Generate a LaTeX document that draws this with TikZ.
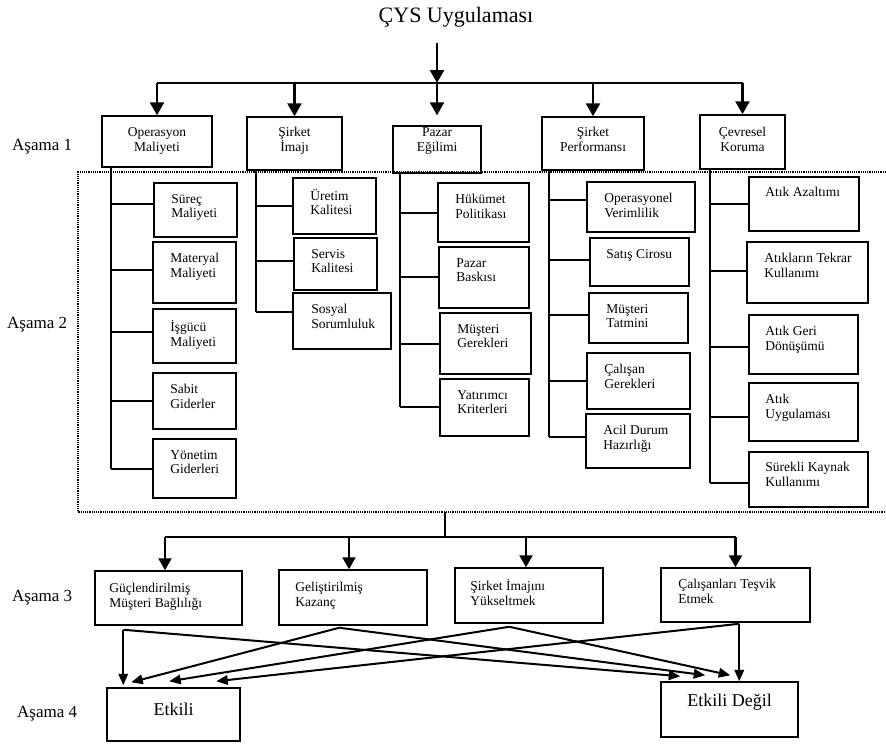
\documentclass[tikz,border=0pt]{standalone}
\usepackage{fontspec}
\setmainfont{Liberation Serif}
\usetikzlibrary{arrows.meta,calc}
\newcommand\bxfont{\fontsize{13.5pt}{14.5pt}\selectfont}
\newcommand\lonefont{\fontsize{13.5pt}{15pt}\selectfont}
\newcommand\ttlfont{\fontsize{22pt}{26pt}\selectfont}
\newcommand\stgfont{\fontsize{17pt}{20pt}\selectfont}
\newcommand\efont{\fontsize{18pt}{21pt}\selectfont}
\tikzset{
  bx/.style={draw, line width=1.5pt, inner sep=0pt},
  ln/.style={line width=1.5pt},
  barw/.style={line width=1.8pt},
  ln2/.style={line width=1.7pt},
  bigarr/.style={line width=2.5pt, -{Triangle[width=14pt,length=13pt]}},
  midarr/.style={line width=2.1pt, -{Triangle[width=13pt,length=12pt]}},
  xarr/.style={line width=2pt, -{Triangle[width=9.5pt,length=11.5pt]}},
  dotln/.style={line width=1.8pt, dash pattern=on 1.2pt off 1pt},
  stage/.style={anchor=base west, inner sep=0pt, font=\stgfont},
}
% name, x1, y1, x2, y2, xoff, yoff, text
\newcommand\mybox[8]{%
  \node[bx, minimum width={#4-#2}, minimum height={#5-#3},
    label={[anchor=north west, align=left, inner sep=0pt, font=\bxfont,
            xshift=#6pt, yshift=-#7pt]north west:{#8}}]
    (#1) at ({(#2+#4)/2},{(#3+#5)/2}) {};}
% name, x1, y1, x2, y2, text  (first line top at y=128)
\newcommand\lvlone[6]{%
  \node[bx, minimum width={#4-#2}, minimum height={#5-#3},
    label={[anchor=north, align=center, inner sep=0pt, font=\lonefont,
            yshift={(#3-128)*1pt}]north:{#6}}]
    (#1) at ({(#2+#4)/2},{(#3+#5)/2}) {};}
\begin{document}
\begin{tikzpicture}[x=1pt, y=-1pt]
\useasboundingbox (0,0) rectangle (886,744);

% title
\node[font=\ttlfont, anchor=base, inner sep=0pt] (title) at (456,23) {ÇYS Uygulaması};

% stage labels
\node[stage] (a1) at (12,150) {Aşama 1};
\node[stage] (a2) at (7,328) {Aşama 2};
\node[stage] (a3) at (12,601) {Aşama 3};
\node[stage] (a4) at (17,717) {Aşama 4};

% level 1
\lvlone{op}{102}{116}{212}{167}{Operasyon\\Maliyeti}
\lvlone{si}{247}{117}{342}{170}{Şirket\\İmajı}
\lvlone{pe}{393}{126}{481}{173}{Pazar\\Eğilimi}
\lvlone{sp}{542}{117}{644}{170}{Şirket\\Performansı}
\lvlone{ck}{700}{115}{785}{169}{Çevresel\\Koruma}

\coordinate (a0) at (437,43);
\coordinate (hub) at (437,83);
\draw[barw] (op.north |- hub) -- (ck.north |- hub);
\draw[bigarr] (a0) -- (hub);
\foreach \n in {op,si,sp,ck} \draw[bigarr] (\n.north |- hub) -- (\n.north);
\draw[bigarr] (pe.north |- hub) -- ([yshift=10pt]pe.north);

% dotted frame
\draw[dotln] (886,172) -- (78,172) -- (78,512) -- (886,512);
\coordinate (fbot) at (445,512);

% level 2, column 1
\mybox{s1}{154}{183}{237}{237}{18}{12}{Süreç\\Maliyeti}
\mybox{s2}{153}{242}{236}{303}{18}{12}{Materyal\\Maliyeti}
\mybox{s3}{153}{309}{236}{363}{18}{12}{İşgücü\\Maliyeti}
\mybox{s4}{153}{373}{236}{429}{18}{12}{Sabit\\Giderler}
\mybox{s5}{153}{439}{236}{498}{18}{12}{Yönetim\\Giderleri}
% column 2
\mybox{i1}{293}{178}{376}{234}{18}{12}{Üretim\\Kalitesi}
\mybox{i2}{294}{238}{377}{290}{18}{12}{Servis\\Kalitesi}
\mybox{i3}{293}{293}{391}{349}{19}{12}{Sosyal\\Sorumluluk}
% column 3
\mybox{p1}{438}{183}{529}{242}{18}{12}{Hükümet\\Politikası}
\mybox{p2}{439}{247}{529}{308}{18}{12}{Pazar\\Baskısı}
\mybox{p3}{440}{313}{531}{374}{18}{12}{Müşteri\\Gerekleri}
\mybox{p4}{440}{379}{529}{436}{18}{12}{Yatırımcı\\Kriterleri}
% column 4
\mybox{f1}{587}{182}{695}{232}{18}{12}{Operasyonel\\Verimlilik}
\mybox{f2}{590}{238}{689}{286}{17}{12}{Satış Cirosu}
\mybox{f3}{589}{293}{688}{343}{18}{12}{Müşteri\\Tatmini}
\mybox{f4}{587}{353}{690}{409}{18}{12}{Çalışan\\Gerekleri}
\mybox{f5}{586}{414}{690}{468}{18}{12}{Acil Durum\\Hazırlığı}
% column 5
\mybox{c1}{749}{177}{859}{231}{17}{11}{Atık Azaltımı}
\mybox{c2}{747}{242}{868}{303}{18}{12}{Atıkların Tekrar\\Kullanımı}
\mybox{c3}{749}{315}{858}{374}{17}{12}{Atık Geri\\Dönüşümü}
\mybox{c4}{749}{383}{858}{441}{17}{12}{Atık\\Uygulaması}
\mybox{c5}{749}{452}{868}{507}{17}{11}{Sürekli Kaynak\\Kullanımı}

% trunks
\coordinate (t1) at (111,0);
\coordinate (t2) at (256,0);
\coordinate (t3) at (400,0);
\coordinate (t4) at (549,0);
\coordinate (t5) at (710,0);
\foreach \n/\s in {s1/6,s2/2.5,s3/4,s4/0,s5/-0.5,i1/0,i2/3,i3/9,p1/-0.5,p2/0.5,p3/-0.5,p4/0.5,f1/7,f2/2,f3/3,f4/0,f5/4,c1/0,c2/1.5,c3/-2.5,c4/-5,c5/-3.5}
  \path ([yshift=\s pt]\n.west) coordinate (b\n);
\draw[ln] (op.south -| t1) -- (bs5 -| t1);
\draw[ln] (si.south -| t2) -- (bi3 -| t2);
\draw[ln] (pe.south -| t3) -- (bp4 -| t3);
\draw[ln] (sp.south -| t4) -- (bf5 -| t4);
\draw[ln] (ck.south -| t5) -- (bc5 -| t5);
\foreach \n in {s1,s2,s3,s4,s5} \draw[ln] (b\n -| t1) -- (b\n);
\foreach \n in {i1,i2,i3} \draw[ln] (b\n -| t2) -- (b\n);
\foreach \n in {p1,p2,p3,p4} \draw[ln] (b\n -| t3) -- (b\n);
\foreach \n in {f1,f2,f3,f4,f5} \draw[ln] (b\n -| t4) -- (b\n);
\foreach \n in {c1,c2,c3,c4,c5} \draw[ln] (b\n -| t5) -- (b\n);

% level 3
\mybox{g1}{95}{571}{242}{625}{15}{13}{Güçlendirilmiş\\Müşteri Bağlılığı}
\mybox{g2}{279}{570}{427}{625}{17}{13}{Geliştirilmiş\\Kazanç}
\mybox{g3}{455}{568}{603}{623}{16}{12}{Şirket İmajını\\Yükseltmek}
\mybox{g4}{661}{568}{810}{622}{18}{12}{Çalışanları Teşvik\\Etmek}

\coordinate (hub2) at (445,537);
\draw[ln2] (fbot) -- (hub2);
\path ([xshift=-3.5pt]g1.north) coordinate (g1n)
      ([xshift=-4pt]g2.north) coordinate (g2n)
      ([xshift=-3pt]g3.north) coordinate (g3n)
      (g4.north) coordinate (g4n);
\draw[ln2] (g1n |- hub2) -- (g4n |- hub2);
\foreach \n in {g1n,g2n,g3n,g4n} \draw[midarr] (\n |- hub2) -- (\n);

% level 4
\node[bx, minimum width=133, minimum height=53,
  label={[anchor=center, inner sep=0pt, font=\efont, yshift=-22pt]north:Etkili}]
  (e1) at (173.5,714.5) {};
\node[bx, minimum width=137, minimum height=55,
  label={[anchor=center, inner sep=0pt, font=\efont, yshift=-21pt]north:Etkili Değil}]
  (e2) at (729.5,709.5) {};

% crossing connectors
\coordinate (A) at ($(g1.south west)+(29,4)$);
\coordinate (B) at ($(g2.south west)+(61,2)$);
\coordinate (C) at ($(g3.south west)+(55,3)$);
\coordinate (D) at ($(g4.south west)+(79,1)$);
\coordinate (eA) at ($(e1.north west)+(17,-2)$);
\coordinate (eB) at ($(e1.north west)+(25,-5)$);
\coordinate (eC) at ($(e1.north west)+(63,-6)$);
\coordinate (eD) at ($(e1.north west)+(110,-6)$);
\coordinate (nA) at ($(e2.north west)+(20,-5)$);
\coordinate (nB) at ($(e2.north west)+(45,-6)$);
\coordinate (nC) at ($(e2.north west)+(70,-6)$);
\coordinate (nD) at (D |- e2.north);
\draw[xarr] (A) -- (eA);
\draw[xarr] (A) -- (nA);
\draw[xarr] (B) -- (eB);
\draw[xarr] (B) -- (nB);
\draw[xarr] (C) -- (eC);
\draw[xarr] (C) -- (nC);
\draw[xarr] (D) -- (eD);
\draw[xarr] (D) -- (nD);
\end{tikzpicture}
\end{document}
